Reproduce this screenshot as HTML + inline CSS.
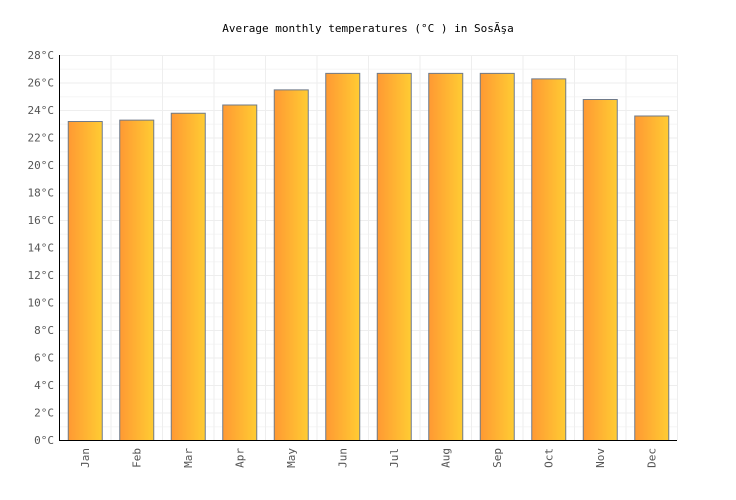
<!DOCTYPE html>
<html><head><meta charset="utf-8"><style>body{margin:0;background:#fff}svg{display:block}</style></head>
<body>
<svg width="736" height="500" font-family="'DejaVu Sans Mono','Liberation Mono',monospace">
<defs><linearGradient id="g" x1="0" x2="1"><stop offset="0" stop-color="#ff9933"/><stop offset="1" stop-color="#ffcc33"/></linearGradient></defs>
<text x="368" y="32" text-anchor="middle" font-size="11" fill="#000">Average monthly temperatures (°C ) in SosÃşa</text>
<g id="grid"></g><g id="bars"></g><g id="axes"></g>
</svg>
<script>
const months=["Jan","Feb","Mar","Apr","May","Jun","Jul","Aug","Sep","Oct","Nov","Dec"];
const temps=[23.2,23.3,23.8,24.4,25.5,26.7,26.7,26.7,26.7,26.3,24.8,23.6];
const yTicks=[0,2,4,6,8,10,12,14,16,18,20,22,24,26,28];
const NS="http://www.w3.org/2000/svg";
const L=59,R=677,T=55,B=440,yMax=28;
const y=v=>B-(v/yMax)*(B-T);
const bw=(R-L)/months.length;
const x=i=>L+i*bw;
function mk(t,a,p){const e=document.createElementNS(NS,t);for(const k in a)e.setAttribute(k,a[k]);p.appendChild(e);return e;}
const grid=document.getElementById('grid'),bars=document.getElementById('bars'),axes=document.getElementById('axes');
yTicks.forEach(v=>{
 const l=mk('line',{x1:L,x2:R,y1:y(v)+.5,y2:y(v)+.5,stroke:'#eeeeee'},grid);
 
 
 if(v<yMax){const m=mk('line',{x1:L,x2:R,y1:y(v+1)+.5,y2:y(v+1)+.5,stroke:'#f6f6f6'},grid);
 
 }
 const t=mk('text',{x:L-5,y:y(v)+4,'text-anchor':'end','font-size':'11',fill:'#555'},axes);
 t.textContent=v+'°C';
 
 
});
for(let i=0;i<=months.length;i++){
 const l=mk('line',{x1:x(i)+.5,x2:x(i)+.5,y1:T,y2:B,stroke:'#eeeeee'},grid);
 
 
}
months.forEach((m,i)=>{
 const w=34,cx=x(i)+bw/2;
 const r=mk('rect',{x:cx-w/2+.5,y:y(temps[i])+.5,width:w,height:B-y(temps[i]),fill:'url(#g)',stroke:'#6f7a8a','stroke-width':1},bars);
 
 
 const t=mk('text',{x:0,y:0,'font-size':'11',fill:'#555','text-anchor':'end',transform:`translate(${cx+4},${B+8}) rotate(-90)`},axes);
 t.textContent=m;
 
 
});
const ax=mk('line',{x1:L+.5,x2:L+.5,y1:T,y2:B+1,stroke:'#000'},axes);


const bx=mk('line',{x1:L,x2:R,y1:B+.5,y2:B+.5,stroke:'#000'},axes);


</script>
</body></html>
